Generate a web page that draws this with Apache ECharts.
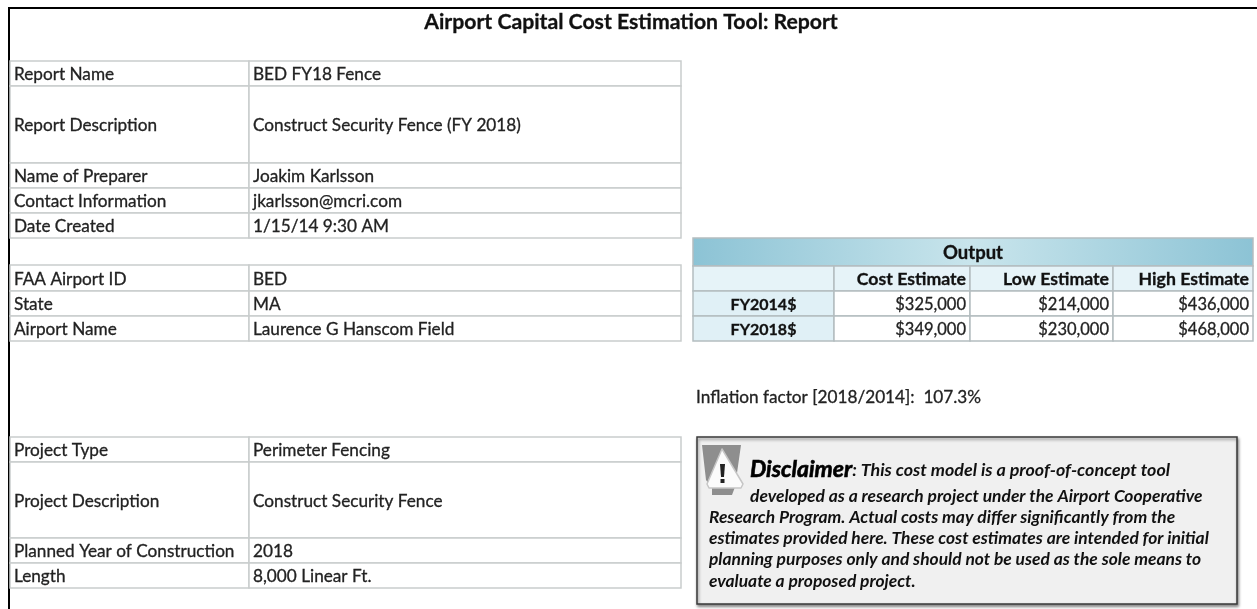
<!DOCTYPE html>
<html>
<head>
<meta charset="utf-8">
<style>
  html, body { margin: 0; padding: 0; background: #fff; }
  #chart { width: 1257px; height: 609px; }
</style>
<script src="https://cdn.jsdelivr.net/npm/echarts@6/dist/echarts.min.js"></script>
</head>
<body>
<div id="chart"></div>
<script>
const titleText = "Airport Capital Cost Estimation Tool: Report";

const reportLabels = ["Report Name", "Report Description", "Name of Preparer", "Contact Information", "Date Created"];
const reportValues = ["BED FY18 Fence", "Construct Security Fence (FY 2018)", "Joakim Karlsson", "jkarlsson@mcri.com", "1/15/14 9:30 AM"];
const airportLabels = ["FAA Airport ID", "State", "Airport Name"];
const airportValues = ["BED", "MA", "Laurence G Hanscom Field"];
const projectLabels = ["Project Type", "Project Description", "Planned Year of Construction", "Length"];
const projectValues = ["Perimeter Fencing", "Construct Security Fence", "2018", "8,000 Linear Ft."];

const outputTitle = "Output";
const outputColumns = ["Cost Estimate", "Low Estimate", "High Estimate"];
const outputYears = ["FY2014$", "FY2018$"];
const costEstimate = ["$325,000", "$349,000"];
const lowEstimate = ["$214,000", "$230,000"];
const highEstimate = ["$436,000", "$468,000"];

const inflationNote = "Inflation factor [2018/2014]:  107.3%";
const disclaimerWord = "Disclaimer";
const disclaimerLines = [
  ": This cost model is a proof-of-concept tool",
  "developed as a research project under the Airport Cooperative",
  "Research Program. Actual costs may differ significantly from the",
  "estimates provided here. These cost estimates are intended for initial",
  "planning purposes only and should not be used as the sole means to",
  "evaluate a proposed project."
];

// layout, in page pixels
const FONT = "Lato";
const leftCols = [10, 249, 681];
const reportRows = [61, 86, 163, 188, 213, 238];
const airportRows = [265, 291, 316, 341];
const projectRows = [437, 462, 538, 563, 588];
const outputCols = [693, 834, 970, 1113, 1253];
const outputRows = [238, 266, 291, 316, 341];
const lineY = [470, 496, 517, 538, 559, 581];
const lineX = [750, 750, 709, 709, 709, 709];

const cells = [];

function addCell(x0, y0, x1, y1, text, opts) {
  cells.push(Object.assign({ value: [x0, y0, x1, y1], text: text }, opts));
}

function addInfoTable(labels, values, rows) {
  labels.forEach((label, i) => {
    const line = { stroke: "#c9cdcd", lineWidth: 1.5, fill: "#fff", align: "left", pad: 4, fontSize: 17.2, color: "#222" };
    addCell(leftCols[0], rows[i], leftCols[1], rows[i + 1], label, line);
    addCell(leftCols[1], rows[i], leftCols[2], rows[i + 1], values[i], line);
  });
}

addInfoTable(reportLabels, reportValues, reportRows);
addInfoTable(airportLabels, airportValues, airportRows);
addInfoTable(projectLabels, projectValues, projectRows);

const outLine = { stroke: "#b4bdc0", lineWidth: 1.5, fontSize: 16.5, color: "#222" };
addCell(outputCols[0], outputRows[0], outputCols[4], outputRows[1], outputTitle, Object.assign({}, outLine, {
  align: "center", bold: true, color: "#111", fontSize: 18.5,
  fill: new echarts.graphic.LinearGradient(0, 0, 1, 0, [
    { offset: 0, color: "#8cc3d5" },
    { offset: 0.5, color: "#c9e5ec" },
    { offset: 1, color: "#8cc3d5" }
  ])
}));
addCell(outputCols[0], outputRows[1], outputCols[1], outputRows[2], "", Object.assign({}, outLine, { fill: "#e6f3f8" }));
outputColumns.forEach((name, c) => {
  addCell(outputCols[c + 1], outputRows[1], outputCols[c + 2], outputRows[2], name, Object.assign({}, outLine, {
    fill: "#e6f3f8", align: "right", pad: 4, bold: true, color: "#111", fontSize: 17.7
  }));
});
outputYears.forEach((year, r) => {
  addCell(outputCols[0], outputRows[r + 2], outputCols[1], outputRows[r + 3], year, Object.assign({}, outLine, {
    fill: "#e0f0f6", align: "center", bold: true, color: "#111", fontSize: 16
  }));
  [costEstimate, lowEstimate, highEstimate].forEach((column, c) => {
    addCell(outputCols[c + 1], outputRows[r + 2], outputCols[c + 2], outputRows[r + 3], column[r], Object.assign({}, outLine, {
      fill: "#fff", align: "right", pad: 4
    }));
  });
});

function renderCell(params, api) {
  const cell = cells[params.dataIndex];
  const a = api.coord([api.value(0), api.value(1)]);
  const b = api.coord([api.value(2), api.value(3)]);
  const textX = cell.align === "left" ? a[0] + cell.pad
    : cell.align === "right" ? b[0] - cell.pad
    : (a[0] + b[0]) / 2;
  return {
    type: "group",
    children: [
      {
        type: "rect",
        shape: { x: a[0], y: a[1], width: b[0] - a[0], height: b[1] - a[1] },
        style: { fill: cell.fill, stroke: cell.stroke, lineWidth: cell.lineWidth }
      },
      {
        type: "text",
        x: textX,
        y: (a[1] + b[1]) / 2 + 1,
        style: {
          text: cell.text,
          fill: cell.color,
          stroke: cell.color,
          lineWidth: 0.3,
          font: (cell.bold ? "bold " : "") + cell.fontSize + "px " + FONT,
          align: cell.align || "left",
          verticalAlign: "middle"
        }
      }
    ]
  };
}

function renderDisclaimer(params, api) {
  const box = [api.coord([697, 437]), api.coord([1237, 604])];
  const p = (x, y) => api.coord([x, y]);
  const children = [
    {
      type: "rect",
      shape: { x: box[0][0], y: box[0][1], width: box[1][0] - box[0][0], height: box[1][1] - box[0][1] },
      style: { fill: "#f0f0f0", stroke: "#3a3a3a", lineWidth: 1.5, shadowColor: "rgba(0,0,0,0.45)", shadowBlur: 3, shadowOffsetX: 1, shadowOffsetY: 2 }
    },
    {
      type: "polygon",
      shape: { points: [p(702, 445), p(741, 445), p(735, 487), p(732, 495), p(712, 495), p(712, 488), p(706, 480)] },
      style: { fill: "#8e8e8e" }
    },
    {
      type: "polygon",
      shape: { points: [p(722, 449), p(743, 484), p(741, 488), p(709, 488), p(707, 484)] },
      style: { fill: "#fbfbfb", stroke: "#c6c6c6", lineWidth: 1.5, lineJoin: "round" }
    },
    {
      type: "polygon",
      shape: { points: [p(720, 464), p(725, 464), p(724, 477), p(721, 477)] },
      style: { fill: "#222" }
    },
    {
      type: "rect",
      shape: { x: p(720.5, 0)[0], y: p(0, 479)[1], width: 4, height: 4 },
      style: { fill: "#222" }
    },
    {
      type: "text",
      x: p(lineX[0], 0)[0],
      y: p(0, lineY[0])[1],
      style: {
        text: "{big|" + disclaimerWord + "}{small|" + disclaimerLines[0] + "}",
        verticalAlign: "middle",
        rich: {
          big: { font: "italic bold 23px " + FONT, fill: "#000", stroke: "#000", lineWidth: 0.6 },
          small: { font: "italic bold 17.9px " + FONT, fill: "#111" }
        }
      }
    }
  ];
  disclaimerLines.slice(1).forEach((line, i) => {
    children.push({
      type: "text",
      x: p(lineX[i + 1], 0)[0],
      y: p(0, lineY[i + 1])[1],
      style: { text: line, font: "italic bold 17.4px " + FONT, fill: "#111", verticalAlign: "middle" }
    });
  });
  return { type: "group", children: children };
}

function renderFrame(params, api) {
  const topLeft = api.coord([9, 8]);
  const topRight = api.coord([1257, 8]);
  const bottomLeft = api.coord([9, 609]);
  return {
    type: "polyline",
    shape: { points: [topRight, topLeft, bottomLeft] },
    style: { fill: "none", stroke: "#000", lineWidth: 2 }
  };
}

function renderPageText(params, api) {
  return {
    type: "group",
    children: [
      {
        type: "text",
        x: api.coord([631, 0])[0],
        y: api.coord([0, 22])[1],
        style: { text: titleText, font: "bold 21.2px " + FONT, fill: "#111", stroke: "#111", lineWidth: 0.3, align: "center", verticalAlign: "middle" }
      },
      {
        type: "text",
        x: api.coord([696, 0])[0],
        y: api.coord([0, 397])[1],
        style: { text: inflationNote, font: "17.2px " + FONT, fill: "#222", stroke: "#222", lineWidth: 0.3, verticalAlign: "middle" }
      }
    ]
  };
}

const chart = echarts.init(document.getElementById("chart"));

chart.setOption({
  animation: false,
  backgroundColor: "#fff",
  tooltip: { show: false },
  grid: { left: 0, right: 0, top: 0, bottom: 0 },
  xAxis: { type: "value", min: 0, max: 1257, show: false },
  yAxis: { type: "value", min: 0, max: 609, inverse: true, show: false },
  series: [
    { type: "custom", silent: true, clip: false, renderItem: renderFrame, data: [[0, 0]] },
    { type: "custom", silent: true, clip: false, renderItem: renderPageText, data: [[0, 0]] },
    { type: "custom", silent: true, clip: false, renderItem: renderCell, data: cells.map(c => c.value), encode: { x: [0, 2], y: [1, 3] } },
    { type: "custom", silent: true, clip: false, renderItem: renderDisclaimer, data: [[0, 0]] }
  ]
});
</script>
</body>
</html>
